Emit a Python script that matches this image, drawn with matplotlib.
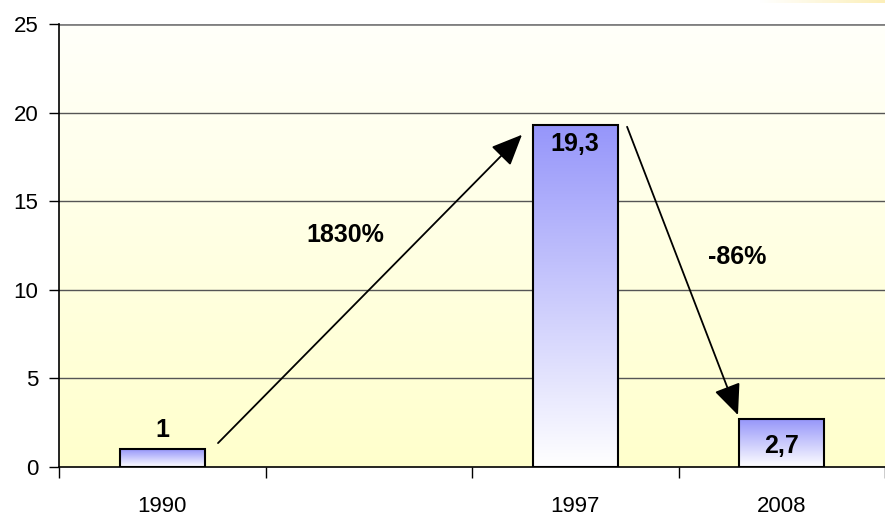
import numpy as np
import matplotlib
matplotlib.use("Agg")
import matplotlib.pyplot as plt
from matplotlib.colors import LinearSegmentedColormap
from matplotlib.patches import Rectangle

plt.rcParams['font.family'] = ['Liberation Sans', 'DejaVu Sans']

# Data
categories = ['1990', '', '1997', '2008']
values = [1.0, np.nan, 19.3, 2.7]
value_labels = ['1', '', '19,3', '2,7']
change_labels = ['1830%', '-86%']
y_ticks = [0, 5, 10, 15, 20, 25]

fig = plt.figure(figsize=(8.85, 5.16), dpi=100)
ax = fig.add_axes([59 / 885, 49 / 516, 826 / 885, 443 / 516])

x = np.arange(len(categories))
bar_w = 0.41

# Plot-area background: near-white at top fading to pale yellow at bottom
bg_cmap = LinearSegmentedColormap.from_list('bg', ['#FFFFCC', '#FFFFFA'])
grad = np.linspace(0, 1, 256).reshape(-1, 1)
ax.imshow(grad, cmap=bg_cmap, aspect='auto', origin='lower',
          extent=[0, 1, 0, 1], transform=ax.transAxes, zorder=0)

# Gridlines
for t in y_ticks[1:]:
    lw = 2.0 if t == 25 else 1.0
    col = '#808080' if t == 25 else '#555555'
    ax.axhline(t, color=col, lw=lw, zorder=1)

# Bars with vertical gradient (violet top -> white bottom)
bar_cmap = LinearSegmentedColormap.from_list('bar', ['#FFFFFF', '#9696FA'])
bars = ax.bar(x, values, width=bar_w, color='none', edgecolor='black',
              linewidth=1.5, zorder=4)
for b in bars:
    h = b.get_height()
    if not np.isfinite(h) or h <= 0:
        continue
    x0, w = b.get_x(), b.get_width()
    im = ax.imshow(grad, cmap=bar_cmap, aspect='auto', origin='lower',
                   extent=[x0, x0 + w, 0, h], zorder=3)
    im.set_clip_path(Rectangle((x0, 0), w, h, transform=ax.transData))

ax.set_xlim(-0.5, len(categories) - 0.5)
ax.set_ylim(0, 25)

# Value labels
lab_kw = dict(ha='center', va='center', fontsize=18, fontweight='bold', zorder=6)
ax.text(x[0], values[0] + 1.1, value_labels[0], **lab_kw)
ax.text(x[2], values[2] - 1.1, value_labels[2], **lab_kw)
ax.text(x[3], values[3] / 2 - 0.15, value_labels[3], **lab_kw)

# Change arrows
arrow_kw = dict(arrowstyle='-|>,head_length=0.8,head_width=0.35', color='black',
                lw=1.3, mutation_scale=24, shrinkA=0, shrinkB=0)
ax.annotate('', xy=(x[2] - 0.258, values[2] - 0.55),
            xytext=(x[0] + 0.27, values[0] + 0.35),
            arrowprops=arrow_kw, zorder=5)
ax.annotate('', xy=(x[3] - 0.212, values[3] + 0.23),
            xytext=(x[2] + 0.251, values[2] - 0.1),
            arrowprops=arrow_kw, zorder=5)

ax.text(0.885, 13.1, change_labels[0], **lab_kw)
ax.text(2.783, 11.85, change_labels[1], **lab_kw)

# Axes styling
ax.set_yticks(y_ticks)
ax.set_yticklabels([str(t) for t in y_ticks], fontsize=16)
ax.set_xticks(x)
ax.set_xticklabels(categories, fontsize=16)
ax.tick_params(axis='x', which='major', length=0, pad=21)
ax.set_xticks(np.arange(-0.5, len(categories)), minor=True)
ax.tick_params(axis='x', which='minor', length=8, width=1, color='black')
ax.tick_params(axis='y', length=7, width=1, color='black', pad=8)

for s in ['top', 'right']:
    ax.spines[s].set_visible(False)
ax.spines['left'].set_linewidth(1.2)
ax.spines['bottom'].set_linewidth(1.2)
ax.spines['left'].set_zorder(7)
ax.spines['bottom'].set_zorder(7)

# Faint warm glow at the top-right edge of the slide
glow = np.linspace(0, 1, 256).reshape(1, -1)
glow_cmap = LinearSegmentedColormap.from_list('glow', ['#FFFFFF', '#FCEFB8'])
gax = fig.add_axes([760 / 885, 513 / 516, 125 / 885, 3 / 516])
gax.imshow(glow, cmap=glow_cmap, aspect='auto')
gax.axis('off')

fig.savefig('out.png', dpi=100)
